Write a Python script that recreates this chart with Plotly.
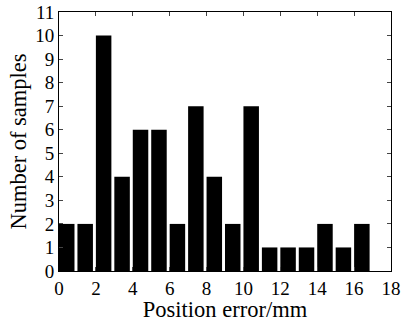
import plotly.graph_objects as go

bin_centers = [0.42, 1.42, 2.42, 3.42, 4.42, 5.42, 6.42, 7.42, 8.42, 9.42,
               10.42, 11.42, 12.42, 13.42, 14.42, 15.42, 16.42]
counts = [2, 2, 10, 4, 6, 6, 2, 7, 4, 2, 7, 1, 1, 1, 2, 1, 2]
x_ticks = [0, 2, 4, 6, 8, 10, 12, 14, 16, 18]
y_ticks = list(range(0, 12))

fam = "Liberation Serif, Times New Roman, serif"
tick_font = dict(family=fam, size=19, color="black")
title_font = dict(family=fam, size=22.5, color="black")

fig = go.Figure(go.Bar(x=bin_centers, y=counts, width=0.84,
                       marker=dict(color="black", line=dict(width=0))))

fig.update_layout(
    width=401, height=322,
    margin=dict(l=59, r=10, t=12, b=51, autoexpand=False),
    paper_bgcolor="white", plot_bgcolor="white",
    font=tick_font, showlegend=False,
)
fig.update_xaxes(range=[0, 18], tickvals=x_ticks, ticks="inside", ticklen=4,
                 showline=True, linecolor="black", linewidth=1, mirror="ticks",
                 showgrid=False, zeroline=False, tickfont=tick_font, automargin=False,
                 title=dict(text="Position error/mm", font=title_font, standoff=3))
fig.update_yaxes(range=[0, 11], tickvals=y_ticks, ticks="inside", ticklen=4,
                 showline=True, linecolor="black", linewidth=1, mirror="ticks",
                 showgrid=False, zeroline=False, tickfont=tick_font, automargin=False,
                 title=dict(text="Number of samples", font=title_font, standoff=2))

fig.write_html("out.html")
